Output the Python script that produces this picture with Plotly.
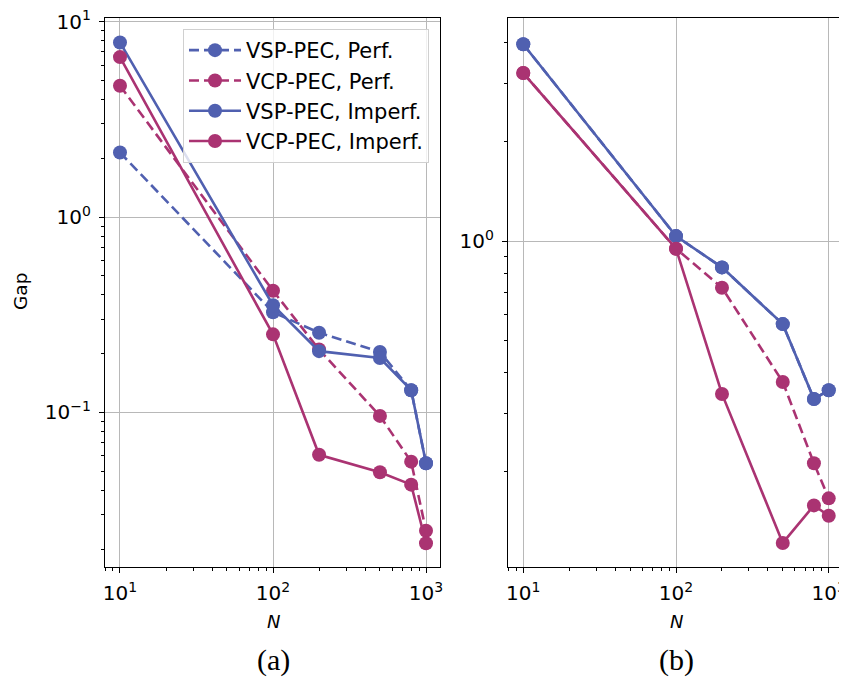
import plotly.graph_objects as go

N = [10, 100, 200, 500, 800, 1000]

# panel (a)
a_vsp_perf = [2.14, 0.326, 0.256, 0.204, 0.130, 0.055]
a_vcp_perf = [4.70, 0.42, 0.21, 0.096, 0.056, 0.0248]
a_vsp_imperf = [7.83, 0.354, 0.206, 0.19, 0.13, 0.055]
a_vcp_imperf = [6.59, 0.251, 0.0607, 0.0494, 0.0427, 0.0214]

# panel (b)
b_vsp_perf = [3.95, 1.035, 0.832, 0.56, 0.332, 0.353]
b_vcp_perf = [3.23, 0.948, 0.722, 0.374, 0.212, 0.166]
b_vsp_imperf = [3.95, 1.035, 0.832, 0.56, 0.332, 0.353]
b_vcp_imperf = [3.23, 0.948, 0.344, 0.1216, 0.158, 0.147]

series_names = ["VSP-PEC, Perf.", "VCP-PEC, Perf.", "VSP-PEC, Imperf.", "VCP-PEC, Imperf."]

BLUE = "#5060b0"
MAG = "#aa3372"
styles = [(BLUE, "10px,5px"), (MAG, "10px,5px"), (BLUE, "solid"), (MAG, "solid")]

fig = go.Figure()
for panel, data in (("a", [a_vsp_perf, a_vcp_perf, a_vsp_imperf, a_vcp_imperf]),
                    ("b", [b_vsp_perf, b_vcp_perf, b_vsp_imperf, b_vcp_imperf])):
    xa, ya = ("x", "y") if panel == "a" else ("x2", "y2")
    for name, ys, (col, dash) in zip(series_names, data, styles):
        fig.add_trace(go.Scatter(
            x=N, y=ys, mode="lines+markers", name=name,
            line=dict(color=col, width=2.6, dash=dash),
            marker=dict(color=col, size=14, symbol="circle"),
            xaxis=xa, yaxis=ya, showlegend=(panel == "a"),
        ))

def sup(e):
    s = str(e).replace("-", "\u2212")
    return "10<sup>" + s + "</sup>"

def minors(lo, hi):
    out = []
    for d in range(lo, hi + 1):
        for m in range(2, 10):
            out.append(m * 10.0 ** d)
    return out

tickfont = dict(family="DejaVu Sans", size=20, color="black")
common = dict(type="log", showline=True, linecolor="black", linewidth=1.3, mirror=True,
              ticks="outside", ticklen=5, tickwidth=1.2, tickcolor="black",
              showgrid=True, gridcolor="#b8b8b8", gridwidth=1, zeroline=False,
              tickfont=tickfont, automargin=False, ticklabeloverflow="allow")

xticks = [10, 100, 1000]
xtext = [sup(1), sup(2), sup(3)]
xminor = dict(tickvals=minors(0, 3), ticks="outside", ticklen=3, tickwidth=1, tickcolor="black", showgrid=False)

# page body has an 8px margin: shift everything by that offset
OFF = 8
W, H = 847, 684 - OFF
L, R, T, B = 105 - OFF, 3 + OFF, 18 - OFF, 684 - 567
PW, PH = W - L - R, H - T - B

def px(xp):
    return (xp - OFF - L) / PW

def py(yp):
    return 1 - (yp - OFF - T) / PH

def label(text, x, y, size, family="DejaVu Sans", angle=0):
    return dict(text=text, x=px(x), y=py(y), xref="paper", yref="paper", showarrow=False,
                xanchor="center", yanchor="middle", textangle=angle,
                font=dict(family=family, size=size, color="black"))

fig.update_layout(
    width=W, height=H,
    paper_bgcolor="white", plot_bgcolor="white",
    margin=dict(l=L, r=R, t=T, b=B, autoexpand=False),
    font=dict(family="DejaVu Sans", color="black"),
    xaxis=dict(common, domain=[0, px(440)], range=[0.902, 3.0915],
               tickvals=xticks, ticktext=xtext, minor=xminor, anchor="y", ticklabelstandoff=3),
    yaxis=dict(common, domain=[0, 1], range=[-1.791, 1.019],
               tickvals=[0.1, 1, 10], ticktext=[sup(-1), sup(0), sup(1)],
               minor=dict(tickvals=minors(-2, 0), ticks="outside", ticklen=3, tickwidth=1,
                          tickcolor="black", showgrid=False), anchor="x", ticklabelstandoff=4),
    xaxis2=dict(common, domain=[px(508), 1], range=[0.9, 3.1],
                tickvals=xticks, ticktext=xtext, minor=xminor, anchor="y2", ticklabelstandoff=3),
    yaxis2=dict(common, domain=[0, 1], range=[-0.988, 0.676],
                tickvals=[1], ticktext=[sup(0)],
                minor=dict(tickvals=minors(-1, 0), ticks="outside", ticklen=3, tickwidth=1,
                           tickcolor="black", showgrid=False), anchor="x2", ticklabelstandoff=4),
    legend=dict(x=px(183), y=py(29), xanchor="left", yanchor="top",
                bgcolor="rgba(255,255,255,0.8)", bordercolor="#d0d0d0", borderwidth=1,
                font=dict(family="DejaVu Sans", size=21, color="black"),
                itemwidth=52, tracegroupgap=0),
    annotations=[
        label("Gap", 20, 292, 18.5, angle=-90),
        label("<i>N</i>", 273, 621, 18),
        label("<i>N</i>", 676, 621, 18),
        label("(a)", 273, 660, 30, family="Liberation Serif"),
        label("(b)", 676, 660, 30, family="Liberation Serif"),
    ],
)

fig.write_html("out.html")
